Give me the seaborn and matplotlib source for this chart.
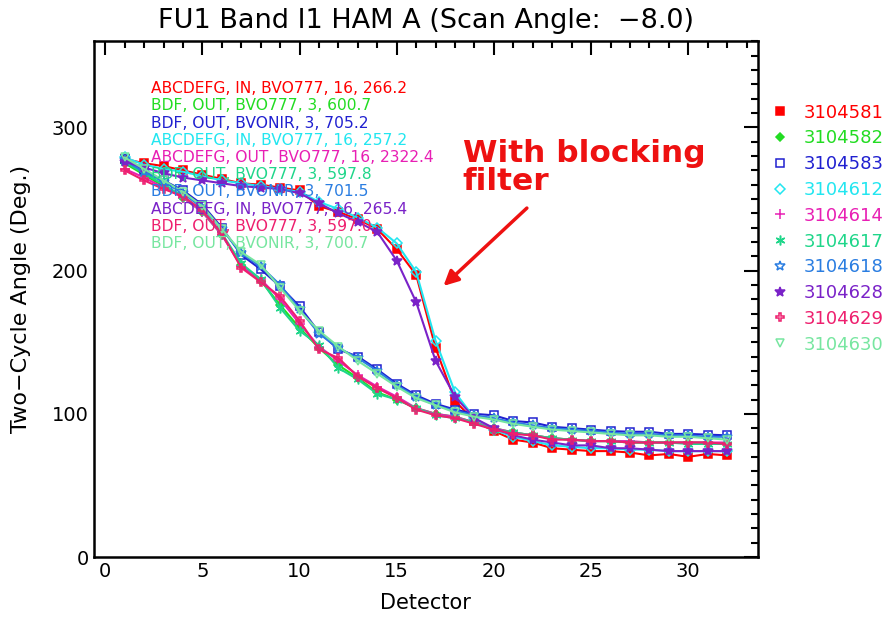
import numpy as np
import pandas as pd
import matplotlib.pyplot as plt
import seaborn as sns
from matplotlib.lines import Line2D
from matplotlib.ticker import MultipleLocator

# dades llegides del grafic
detectors = list(range(1, 33))

serials = ['3104581', '3104582', '3104583', '3104612', '3104614',
           '3104617', '3104618', '3104628', '3104629', '3104630']

info_texts = ['ABCDEFG, IN, BVO777, 16, 266.2',
              'BDF, OUT, BVO777, 3, 600.7',
              'BDF, OUT, BVONIR, 3, 705.2',
              'ABCDEFG, IN, BVO777, 16, 257.2',
              'ABCDEFG, OUT, BVO777, 16, 2322.4',
              'BDF, OUT, BVO777, 3, 597.8',
              'BDF, OUT, BVONIR, 3, 701.5',
              'ABCDEFG, IN, BVO777, 16, 265.4',
              'BDF, OUT, BVO777, 3, 597.0',
              'BDF, OUT, BVONIR, 3, 700.7']

v_3104581 = [278, 275, 273, 270, 267, 264, 261, 260, 258, 256, 245, 241, 236, 229, 215, 197,
             146, 109, 95, 88, 82, 80, 76, 75, 74, 74, 73, 71, 72, 70, 72, 71]
v_3104582 = [275, 267, 259, 251, 241, 225, 204, 193, 176, 160, 146, 134, 125, 115, 110, 104,
             100, 98, 94, 90, 87, 85, 83, 82, 81, 81, 80, 80, 80, 80, 80, 79]
v_3104583 = [278, 270, 263, 256, 246, 230, 211, 201, 189, 175, 157, 145, 140, 131, 121, 113,
             107, 103, 100, 99, 95, 94, 91, 90, 89, 88, 87.5, 87.5, 86, 86, 85.5, 85]
v_3104612 = [279, 274, 271, 269, 266, 263, 261, 259, 257, 255, 248, 243, 237, 230, 219, 199,
             151, 115, 97, 89, 84, 81, 78, 77, 76, 76, 75, 75, 74, 74, 74, 74]
v_3104614 = [271, 265, 258, 251, 241, 225, 203, 194, 180, 163, 147, 137, 127, 119, 112, 104,
             100, 98, 94, 90, 87, 85, 83, 82, 81, 81, 81, 80, 80, 80, 80, 80]
v_3104617 = [276, 268, 260, 252, 242, 226, 205, 194, 174, 158, 148, 132, 124, 114, 110, 104,
             99, 97, 94, 89, 87, 85, 83, 82, 81, 81, 80, 80, 80, 79, 79, 79]
v_3104618 = [277, 269, 262, 254, 244, 229, 212, 203, 190, 173, 156, 146, 139, 130, 120, 112,
             106, 102, 99, 97, 94, 92, 90, 89, 88, 87, 86, 86, 85, 85, 84, 84]
v_3104628 = [276, 272, 268, 265, 263, 261, 259, 258, 257, 254, 247, 240, 234, 227, 207, 178,
             137, 112, 97, 90, 85, 82, 80, 78, 78, 76, 76, 75, 74, 74, 74, 74]
v_3104629 = [270, 263, 257, 252, 242, 226, 202, 192, 182, 165, 145, 139, 126, 118, 111, 103,
             99, 97, 93, 89, 86, 85, 82, 82, 81, 81, 80, 80, 80, 80, 80, 79]
v_3104630 = [279, 271, 263, 255, 245, 229, 213, 204, 188, 172, 158, 147, 137, 128, 119, 111,
             106, 101, 98, 96, 93, 91, 89, 88, 87, 86, 85, 85, 84, 84, 83, 82]

values = [v_3104581, v_3104582, v_3104583, v_3104612, v_3104614,
          v_3104617, v_3104618, v_3104628, v_3104629, v_3104630]

colors = ['#ff0000', '#22dc22', '#2020d0', '#22e6f0', '#e81fb4',
          '#1fd68a', '#2a7de1', '#7a22c8', '#ee1f6e', '#77e6a0']
markers = ['s', 'D', 's', 'D', '+', (6, 2, 0), '*', '*', 'P', 'v']
filled = [True, True, False, False, True, True, False, True, False, False]
msizes = [6, 4.5, 6, 5, 7, 7, 7, 7, 6, 6]

# estil
sns.set_style('white')
plt.rcParams['font.family'] = ['DejaVu Sans']
plt.rcParams['text.color'] = 'black'
plt.rcParams['axes.labelcolor'] = 'black'
plt.rcParams['xtick.color'] = 'black'
plt.rcParams['ytick.color'] = 'black'

fig = plt.figure(figsize=(8.91, 6.19), dpi=100)
ax = fig.add_axes([0.105, 0.1, 0.746, 0.833])

for i, s in enumerate(serials):
    fc = colors[i] if filled[i] else 'none'
    sns.lineplot(x=detectors, y=values[i], color=colors[i], marker=markers[i],
                 markersize=msizes[i], markerfacecolor=fc, markeredgecolor=colors[i],
                 markeredgewidth=1.1, linewidth=1.5, ax=ax, legend=False)

ax.set_xlim(-0.6, 33.6)
ax.set_ylim(0, 360)
ax.xaxis.set_major_locator(MultipleLocator(5))
ax.xaxis.set_minor_locator(MultipleLocator(1))
ax.yaxis.set_major_locator(MultipleLocator(100))
ax.yaxis.set_minor_locator(MultipleLocator(10))
ax.tick_params(which='both', direction='in', top=True, right=True, width=1.5, labelsize=14,
               colors='black')
ax.tick_params(which='major', length=10)
ax.tick_params(which='minor', length=5)
for sp in ax.spines.values():
    sp.set_linewidth(1.8)
    sp.set_color('black')

ax.set_title('FU1 Band I1 HAM A (Scan Angle:  \u22128.0)', fontsize=19.5, pad=10, color='black')
ax.set_xlabel('Detector', fontsize=15, labelpad=9, color='black')
ax.set_ylabel('Two\u2212Cycle Angle (Deg.)', fontsize=16, labelpad=15, color='black')

# textos d'informacio
for i, t in enumerate(info_texts):
    ax.text(2.35, 327 - i * 12, t, color=colors[i], fontsize=11.2, va='center', ha='left')

# fletxa i etiqueta
ax.annotate('', xy=(17.3, 188), xytext=(21.8, 245),
            arrowprops=dict(arrowstyle='-|>', color='#ee1111', lw=2.5, mutation_scale=22))
ax.text(18.4, 282, 'With blocking', color='#ee1111', fontsize=22.5, fontweight='bold', va='center')
ax.text(18.4, 262, 'filter', color='#ee1111', fontsize=22.5, fontweight='bold', va='center')

# llegenda
handles = []
for i, s in enumerate(serials):
    fc = colors[i] if filled[i] else 'none'
    handles.append(Line2D([], [], linestyle='none', marker=markers[i], markersize=msizes[i],
                          markerfacecolor=fc, markeredgecolor=colors[i], markeredgewidth=1.1))
leg = ax.legend(handles, serials, loc='upper left', bbox_to_anchor=(0.865, 0.8325),
                bbox_transform=fig.transFigure, frameon=False, fontsize=13,
                handlelength=1, handletextpad=0.8, labelspacing=0.43,
                borderpad=0, borderaxespad=0, labelcolor=colors)

fig.savefig('out.png', dpi=100)
